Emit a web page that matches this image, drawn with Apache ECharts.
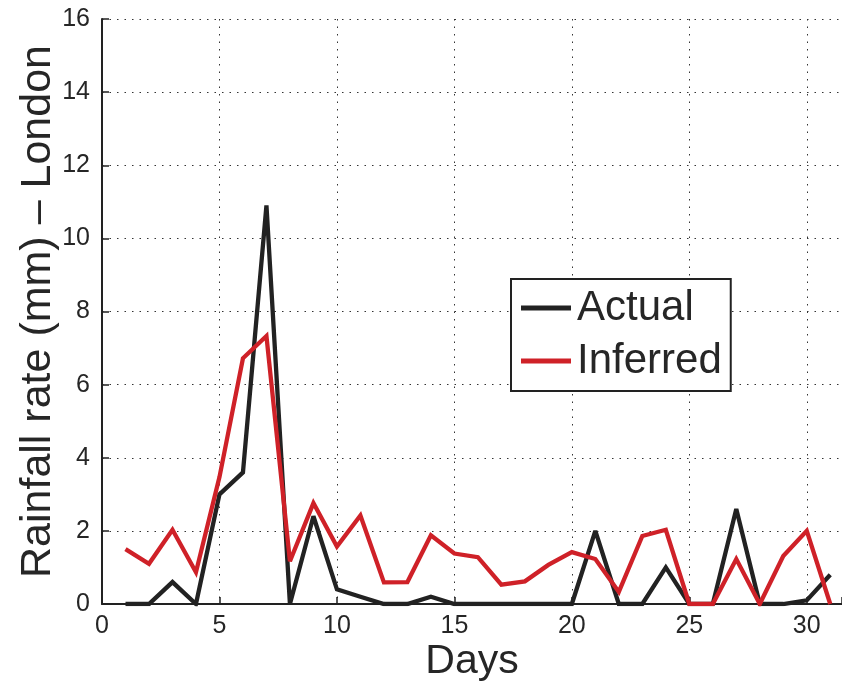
<!DOCTYPE html>
<html>
<head>
    <meta charset="utf-8" />
    <title>Rainfall rate - London</title>
    <script src="https://cdn.jsdelivr.net/npm/echarts@6/dist/echarts.min.js"></script>
    <style>
        html, body { margin: 0; padding: 0; background: #ffffff; overflow: hidden; }
        #chart { width: 842px; height: 682px; }
    </style>
</head>
<body>
<div id="chart"></div>
<script type="text/javascript">
    // 每天的数据 (day 1..31)
    var days = [1, 2, 3, 4, 5, 6, 7, 8, 9, 10, 11, 12, 13, 14, 15, 16,
                17, 18, 19, 20, 21, 22, 23, 24, 25, 26, 27, 28, 29, 30, 31];
    var actual = [0, 0, 0.6, 0, 3.0, 3.6, 10.9, 0, 2.4, 0.4, 0.2, 0, 0, 0.2, 0, 0,
                  0, 0, 0, 0, 2.0, 0, 0, 1.0, 0, 0, 2.6, 0, 0, 0.1, 0.8];
    var inferred = [1.5, 1.1, 2.03, 0.87, 3.47, 6.72, 7.33, 1.17, 2.76, 1.57, 2.42, 0.59, 0.6, 1.88, 1.38, 1.28,
                    0.53, 0.62, 1.07, 1.42, 1.23, 0.33, 1.86, 2.03, 0, 0, 1.23, 0, 1.31, 2.0, 0];
    var xTicks = [0, 5, 10, 15, 20, 25, 30];

    function pairs(vals) {
        var out = [];
        for (var i = 0; i < days.length; i++) {
            out.push([days[i], vals[i]]);
        }
        return out;
    }

    var font = '"Liberation Sans", Arial, sans-serif';
    var ink = '#262626';
    var gridLine = { show: true, lineStyle: { color: '#333', width: 1, type: [1.5, 6] } };

    var myChart = echarts.init(document.getElementById('chart'));
    var option = {
        animation: false,
        backgroundColor: '#ffffff',
        grid: { left: 102, right: 0, top: 19, bottom: 78, containLabel: false, outerBoundsMode: 'none' },
        legend: {
            left: 511,
            top: 279,
            orient: 'vertical',
            padding: [6, 9, 7, 10],
            itemGap: 7,
            itemWidth: 50,
            itemHeight: 5,
            borderColor: '#222',
            borderWidth: 2,
            backgroundColor: '#fff',
            textStyle: { fontFamily: font, fontSize: 42, color: ink, lineHeight: 46, padding: [0, 0, 0, 1] },
            data: [
                { name: 'Actual', icon: 'rect', itemStyle: { color: '#222222' } },
                { name: 'Inferred', icon: 'rect', itemStyle: { color: '#cf2128' } }
            ]
        },
        xAxis: {
            type: 'value',
            min: 0,
            max: 31.5,
            interval: 5,
            name: 'Days',
            nameLocation: 'middle',
            nameMoveOverlap: false,
            nameGap: 37,
            nameTextStyle: { fontFamily: font, fontSize: 41, color: ink },
            axisLine: { show: true, lineStyle: { color: '#222', width: 2 } },
            axisTick: { show: true, inside: true, length: 7, lineStyle: { color: '#222', width: 1.5 } },
            axisLabel: {
                fontFamily: font, fontSize: 25, color: ink, margin: 10,
                formatter: function (v) { return xTicks.indexOf(v) >= 0 ? String(v) : ''; }
            },
            splitLine: gridLine
        },
        yAxis: {
            type: 'value',
            min: 0,
            max: 16,
            interval: 2,
            name: 'Rainfall rate (mm) \u2013 London',
            nameLocation: 'middle',
            nameMoveOverlap: false,
            nameGap: 42,
            nameTextStyle: { fontFamily: font, fontSize: 43, color: ink },
            axisLine: { show: true, lineStyle: { color: '#222', width: 2 } },
            axisTick: { show: true, inside: true, length: 7, lineStyle: { color: '#222', width: 1.5 } },
            axisLabel: { fontFamily: font, fontSize: 25, color: ink, margin: 12 },
            splitLine: gridLine
        },
        series: [
            {
                name: 'Actual',
                type: 'line',
                data: pairs(actual),
                showSymbol: false,
                symbol: 'none',
                color: '#222222',
                lineStyle: { color: '#222222', width: 4.3, join: 'miter', miterLimit: 3 }
            },
            {
                name: 'Inferred',
                type: 'line',
                data: pairs(inferred),
                showSymbol: false,
                symbol: 'none',
                color: '#cf2128',
                lineStyle: { color: '#cf2128', width: 4.3, join: 'miter', miterLimit: 3 }
            }
        ]
    };
    myChart.setOption(option);
</script>
</body>
</html>
